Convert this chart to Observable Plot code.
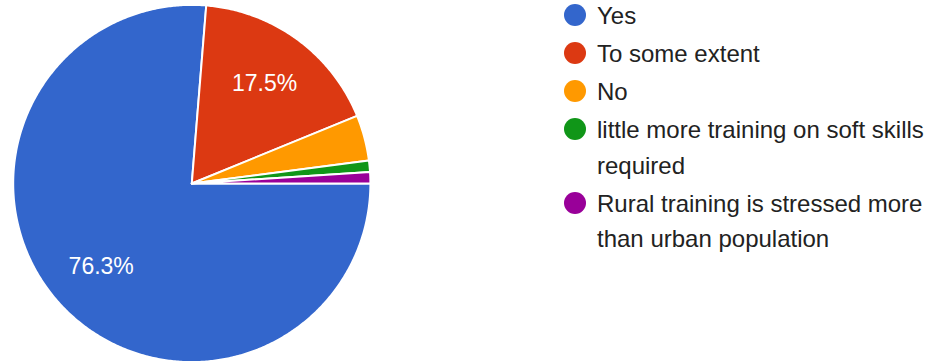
<!DOCTYPE html>
<html>
<head>
<meta charset="utf-8">
<script src="https://cdn.jsdelivr.net/npm/d3@7"></script>
<script src="https://cdn.jsdelivr.net/npm/@observablehq/plot@0.6"></script>
<style>
  html, body { margin: 0; padding: 0; background: #fff; }
  #wrap { position: relative; width: 928px; height: 364px; overflow: hidden; font-family: "Liberation Sans", Arial, sans-serif; }
  #legend { position: absolute; left: 564px; top: -2px; }
  .row { display: flex; align-items: flex-start; margin-bottom: 2.5px; }
  .sw { width: 22px; height: 22px; border-radius: 50%; margin-top: 6px; margin-right: 11px; flex: none; }
  .lab { font-size: 24px; line-height: 35.5px; color: #222; width: 340px; }
</style>
</head>
<body>
<div id="wrap"><div id="legend"></div></div>
<script>
const categories = ["Yes", "To some extent", "No", "little more training on soft skills required", "Rural training is stressed more than urban population"];
const counts = [74, 17, 4, 1, 1];
const colors = ["#3366cc", "#dc3912", "#ff9900", "#109618", "#990099"];

const total = d3.sum(counts);
const arcs = d3.pie().sort(null).startAngle(Math.PI / 2).endAngle(Math.PI / 2 + 2 * Math.PI)(counts);

// slice outlines in unit-circle data space
const pts = [];
arcs.forEach((a, i) => {
  const name = categories[i];
  pts.push({name, x: 0, y: 0});
  const n = Math.max(2, Math.ceil((a.endAngle - a.startAngle) / (Math.PI / 360)));
  for (let k = 0; k <= n; k++) {
    const t = a.startAngle + (a.endAngle - a.startAngle) * k / n;
    pts.push({name, x: Math.sin(t), y: Math.cos(t)});
  }
  pts.push({name, x: 0, y: 0});
});

const labels = arcs.map((a, i) => {
  const m = (a.startAngle + a.endAngle) / 2;
  return {name: categories[i], x: 0.69 * Math.sin(m), y: 0.69 * Math.cos(m), pct: a.value / total};
}).filter(d => d.pct >= 0.05);

const chart = Plot.plot({
  width: 928,
  height: 364,
  margin: 0,
  x: {domain: [-1, 1], range: [12.7, 369.9], axis: null},
  y: {domain: [-1, 1], range: [361.6, 4.4], axis: null},
  color: {domain: categories, range: colors},
  style: {fontFamily: "'Liberation Sans', Arial, sans-serif", background: "transparent"},
  marks: [
    Plot.line(pts, {x: "x", y: "y", z: "name", fill: "name", stroke: "white", strokeWidth: 2, strokeLinejoin: "round"}),
    Plot.text(labels, {x: "x", y: "y", text: d => (d.pct * 100).toFixed(1) + "%", fill: "white", fontSize: 23})
  ]
});
document.getElementById("wrap").prepend(chart);

const legend = d3.select("#legend");
categories.forEach((c, i) => {
  const row = legend.append("div").attr("class", "row");
  row.append("div").attr("class", "sw").style("background", colors[i]);
  row.append("div").attr("class", "lab").text(c);
});
</script>
</body>
</html>
